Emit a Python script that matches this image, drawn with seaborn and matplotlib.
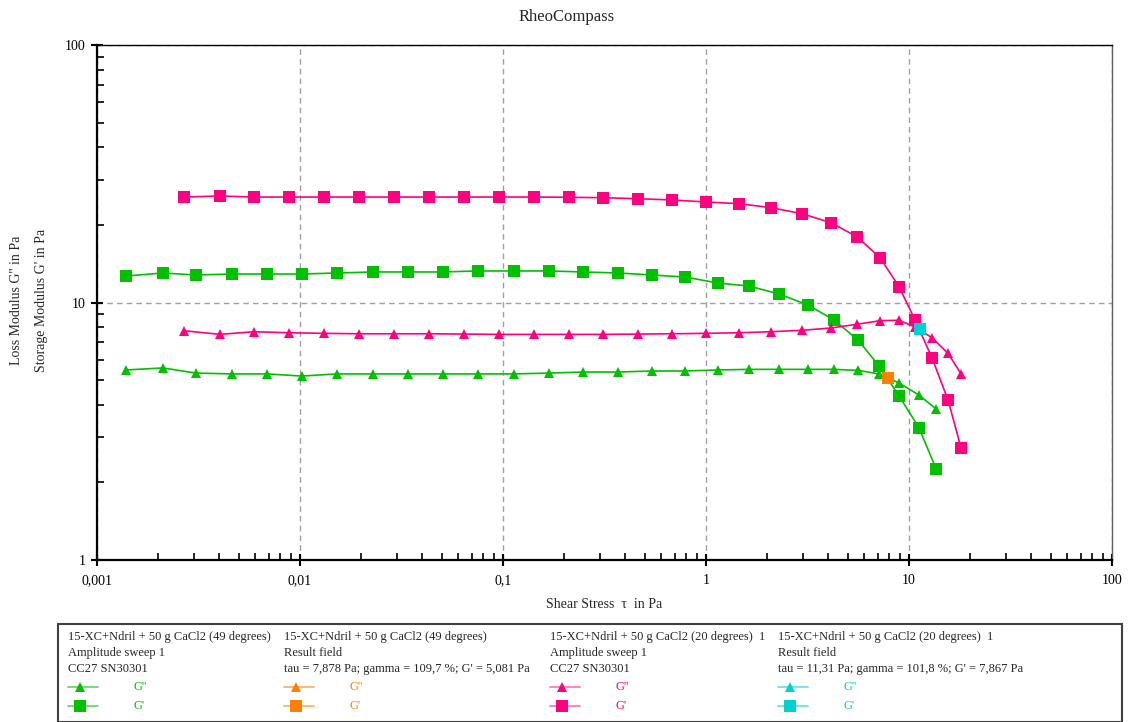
import matplotlib
matplotlib.use("Agg")
import matplotlib.pyplot as plt
import seaborn as sns
import pandas as pd
import numpy as np
from matplotlib.lines import Line2D
from matplotlib.patches import Rectangle
from matplotlib.ticker import LogLocator, NullFormatter

# ---------------- data ----------------
# 49 degrees, amplitude sweep
stress_49 = [0.00139, 0.00211, 0.00307, 0.00462, 0.00688, 0.0102, 0.0152, 0.0229,
             0.0340, 0.0506, 0.0753, 0.113, 0.169, 0.248, 0.369, 0.542, 0.788,
             1.146, 1.628, 2.288, 3.18, 4.27, 5.61, 7.12, 8.93, 11.2, 13.6]
gp_49 = [12.67, 13.02, 12.79, 12.90, 12.90, 12.90, 13.02, 13.14, 13.14, 13.14, 13.26,
         13.26, 13.26, 13.14, 13.02, 12.79, 12.56, 11.90, 11.59, 10.79, 9.78, 8.55,
         7.15, 5.67, 4.34, 3.26, 2.26]
gpp_49 = [5.47, 5.57, 5.32, 5.28, 5.28, 5.18, 5.28, 5.28, 5.28, 5.28, 5.28, 5.28,
          5.32, 5.37, 5.37, 5.42, 5.42, 5.47, 5.50, 5.50, 5.50, 5.50, 5.45, 5.28,
          4.87, 4.37, 3.86]

# 20 degrees, amplitude sweep
stress_20 = [0.00268, 0.00404, 0.00594, 0.00883, 0.0131, 0.0195, 0.0291, 0.0432,
             0.0643, 0.0956, 0.142, 0.211, 0.311, 0.462, 0.680, 1.0, 1.454, 2.09,
             2.97, 4.13, 5.54, 7.20, 8.93, 10.71, 12.98, 15.57, 18.04]
gp_20 = [25.68, 25.92, 25.68, 25.68, 25.68, 25.68, 25.68, 25.68, 25.68, 25.68, 25.68,
         25.62, 25.53, 25.30, 25.01, 24.57, 24.20, 23.35, 22.13, 20.41, 18.01, 14.93,
         11.52, 8.55, 6.10, 4.18, 2.73]
gpp_20 = [7.77, 7.52, 7.70, 7.63, 7.59, 7.56, 7.56, 7.56, 7.54, 7.52, 7.52, 7.52,
          7.52, 7.54, 7.56, 7.59, 7.63, 7.70, 7.80, 7.96, 8.23, 8.50, 8.53, 8.03,
          7.30, 6.35, 5.28]

# result fields
res49_tau, res49_g = [7.878], [5.081]
res20_tau, res20_g = [11.31], [7.867]

x_ticks = [0.001, 0.01, 0.1, 1, 10, 100]
x_ticklabels = ["0,001", "0,01", "0,1", "1", "10", "100"]
y_ticks = [1, 10, 100]
y_ticklabels = ["1", "10", "100"]

legend_headers = [
    ["15-XC+Ndril + 50 g CaCl2 (49 degrees)", "Amplitude sweep 1", "CC27 SN30301"],
    ["15-XC+Ndril + 50 g CaCl2 (49 degrees)", "Result field",
     "tau = 7,878 Pa; gamma = 109,7 %; G' = 5,081 Pa"],
    ["15-XC+Ndril + 50 g CaCl2 (20 degrees)  1", "Amplitude sweep 1", "CC27 SN30301"],
    ["15-XC+Ndril + 50 g CaCl2 (20 degrees)  1", "Result field",
     "tau = 11,31 Pa; gamma = 101,8 %; G' = 7,867 Pa"],
]

# ---------------- style ----------------
GREEN = "#00c000"
PINK = "#ff0080"
ORANGE = "#ff8000"
CYAN = "#00d0d0"
LIGHT = {GREEN: "#5fd65f", PINK: "#ff6fb4", ORANGE: "#ffaa5a", CYAN: "#5fe0e0"}

sns.set_style("ticks")
plt.rcParams["font.family"] = ["Liberation Serif", "DejaVu Serif"]

fig = plt.figure(figsize=(11.36, 7.22), dpi=100)
W, H = 1136, 722
ax = fig.add_axes([97 / W, 1 - 560 / H, (1112 - 97) / W, (560 - 45) / H])

def draw(x, y, color, marker, ms):
    df = pd.DataFrame({"x": x, "y": y})
    sns.lineplot(data=df, x="x", y="y", ax=ax, color=color, lw=1.2,
                 marker=marker, markersize=ms, markeredgewidth=0,
                 estimator=None, sort=False, legend=False, zorder=3)

draw(stress_49, gp_49, GREEN, "s", 8.8)
draw(stress_49, gpp_49, GREEN, "^", 7.5)
draw(stress_20, gp_20, PINK, "s", 8.8)
draw(stress_20, gpp_20, PINK, "^", 7.5)
draw(res49_tau, res49_g, ORANGE, "s", 8.8)
draw(res20_tau, res20_g, CYAN, "s", 8.8)

ax.set_xscale("log")
ax.set_yscale("log")
ax.set_xlim(0.001, 100)
ax.set_ylim(1, 100)
ax.set_xticks(x_ticks)
ax.set_xticklabels(x_ticklabels)
ax.set_yticks(y_ticks)
ax.set_yticklabels(y_ticklabels)
ax.xaxis.set_minor_locator(LogLocator(base=10, subs=np.arange(2, 10), numticks=20))
ax.yaxis.set_minor_locator(LogLocator(base=10, subs=np.arange(2, 10), numticks=20))
ax.xaxis.set_minor_formatter(NullFormatter())
ax.yaxis.set_minor_formatter(NullFormatter())

ax.tick_params(axis="both", which="both", bottom=True, left=True, top=False, right=False)
ax.tick_params(axis="both", which="major", direction="inout", length=8, width=1.5,
               labelsize=10, colors="black")
ax.tick_params(axis="both", which="minor", direction="in", length=5, width=1.2,
               colors="black")
ax.tick_params(axis="x", which="major", pad=6)
ax.tick_params(axis="y", which="major", pad=4)

ax.grid(True, which="major", color="#a0a0a0", linestyle=(0, (4, 3)), lw=1.0)
ax.grid(False, which="minor")
ax.set_axisbelow(True)

for side in ["left", "bottom"]:
    ax.spines[side].set_linewidth(1.6)
    ax.spines[side].set_color("black")
for side in ["top", "right"]:
    ax.spines[side].set_linewidth(1.0)
    ax.spines[side].set_color("black")
ax.spines["right"].set_color("#606060")

ax.set_xlabel("Shear Stress  τ  in Pa", fontsize=10, labelpad=8)
ax.set_ylabel("")

fig.text(17 / W, 1 - 300 / H, "Loss Modulus G'' in Pa", rotation=90,
         ha="center", va="center", fontsize=10)
fig.text(42 / W, 1 - 300 / H, "Storage Modulus G' in Pa", rotation=90,
         ha="center", va="center", fontsize=10)

fig.text(567 / W, 1 - 17 / H, "RheoCompass", ha="center", va="center", fontsize=12)

# ---------------- legend box ----------------
fig.patches.append(Rectangle((58 / W, 0), (1122 - 58) / W, (722 - 624) / H,
                             transform=fig.transFigure, fill=False,
                             edgecolor="#404040", lw=1.5))
col_x = [68, 284, 550, 778]
col_colors = [GREEN, ORANGE, PINK, CYAN]
line_y = [637, 653, 669]
entry_y = [687, 706]
for cx, color, header in zip(col_x, col_colors, legend_headers):
    for ly, txt in zip(line_y, header):
        fig.text(cx / W, 1 - ly / H, txt, ha="left", va="center", fontsize=9)
    for ey, mk, ms, lab in zip(entry_y, ["^", "s"], [7.5, 8.8], ["G''", "G'"]):
        yy = 1 - ey / H
        fig.add_artist(Line2D([cx / W, (cx + 30) / W], [yy, yy], transform=fig.transFigure,
                              color=LIGHT[color], lw=1.2))
        fig.add_artist(Line2D([(cx + 12) / W], [yy], transform=fig.transFigure,
                              color=color, marker=mk, markersize=ms, markeredgewidth=0,
                              lw=0))
        fig.text((cx + 65) / W, yy, lab, ha="left", va="center", fontsize=9, color=color)

fig.savefig("out.png", dpi=100)
